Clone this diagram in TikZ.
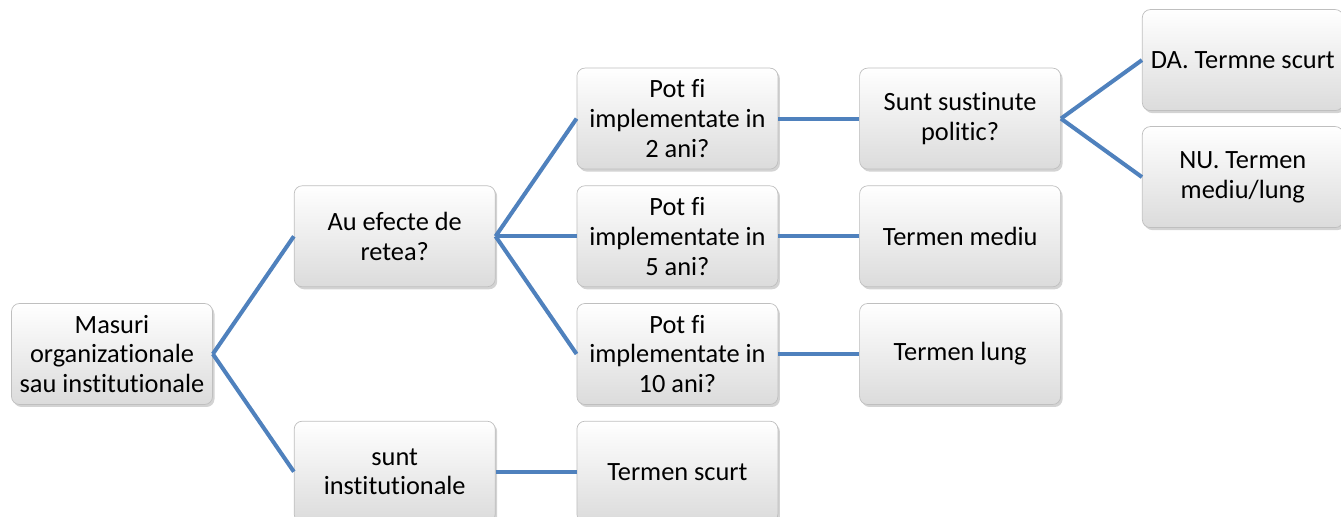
\documentclass[tikz,border=0pt]{standalone}
\usepackage{fontspec}
\setmainfont{Carlito}[Ligatures=NoCommon]
\usetikzlibrary{positioning, shadows}

\definecolor{linkblue}{RGB}{79,129,189}

\begin{document}
\begin{tikzpicture}[
node distance=0.32cm and 1.62cm,
box/.style={rectangle, rounded corners=0.16cm, draw=gray!50, top color=white, bottom color=gray!28, drop shadow={opacity=0.35, shadow xshift=0.04cm, shadow yshift=-0.05cm}, align=center, minimum width=4.02cm, minimum height=2.02cm, font=\fontsize{15}{17}\selectfont},
link/.style={draw=linkblue, line width=2.3pt}
]
\useasboundingbox (-2.24,-3.26) rectangle (24.58,7.08);

\node[box] (masuri) at (0,0) {Masuri\\organizationale\\sau institutionale};
\node[box, above right=of masuri] (retea) {Au efecte de\\retea?};
\node[box, below right=of masuri] (sunt) {sunt\\institutionale};
\node[box, right=of retea] (ani5) {Pot fi\\implementate in\\5 ani?};
\node[box, above=of ani5] (ani2) {Pot fi\\implementate in\\2 ani?};
\node[box, below=of ani5] (ani10) {Pot fi\\implementate in\\10 ani?};
\node[box, right=of sunt] (scurt) {Termen scurt};
\node[box, right=of ani2] (politic) {Sunt sustinute\\politic?};
\node[box, right=of ani5] (mediu) {Termen mediu};
\node[box, right=of ani10] (lung) {Termen lung};
\node[box, right=of politic, yshift=1.17cm] (da) {DA. Termne scurt};
\node[box, right=of politic, yshift=-1.17cm] (nu) {NU. Termen\\mediu/lung};

\draw[link] (masuri.east) -- (retea.west);
\draw[link] (masuri.east) -- (sunt.west);
\draw[link] (retea.east) -- (ani2.west);
\draw[link] (retea.east) -- (ani5.west);
\draw[link] (retea.east) -- (ani10.west);
\draw[link] (sunt) -- (scurt);
\draw[link] (ani2) -- (politic);
\draw[link] (ani5) -- (mediu);
\draw[link] (ani10) -- (lung);
\draw[link] (politic.east) -- (da.west);
\draw[link] (politic.east) -- (nu.west);
\end{tikzpicture}
\end{document}
